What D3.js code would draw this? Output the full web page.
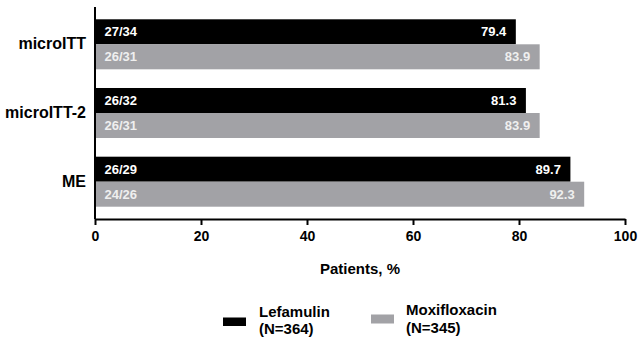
<!DOCTYPE html>
<html lang="en">
<head>
    <meta charset="UTF-8">
    <title>Lefamulin vs Moxifloxacin</title>
    <style>
        body {
            margin: 0;
            padding: 0;
            background-color: #ffffff;
        }

        svg text {
            font-family: 'Liberation Sans', Arial, sans-serif;
            font-weight: bold;
        }

        .axis path, .axis line {
            stroke: #000;
            stroke-width: 2px;
        }
    </style>
</head>
<body>
    <svg width="639" height="338"></svg>

    <script src="https://d3js.org/d3.v7.min.js"></script>
    <script>
        // data
        const categories = ["microITT", "microITT-2", "ME"];
        const seriesNames = ["Lefamulin", "Moxifloxacin"];
        const seriesN = ["(N=364)", "(N=345)"];
        const lefamulinPct = [79.4, 81.3, 89.7];
        const moxifloxacinPct = [83.9, 83.9, 92.3];
        const lefamulinFrac = ["27/34", "26/32", "26/29"];
        const moxifloxacinFrac = ["26/31", "26/31", "24/26"];
        const xTicks = [0, 20, 40, 60, 80, 100];

        const colors = ["#000000", "#a2a2a6"];
        const labelColors = ["#ffffff", "#efefef"];

        const svg = d3.select("svg");

        const margin = {top: 7, right: 14, bottom: 119, left: 95};
        const width = 639, height = 338;

        const x = d3.scaleLinear()
            .domain([0, 100])
            .range([margin.left, width - margin.right]);

        const y = d3.scaleBand()
            .domain(categories)
            .range([margin.top, height - margin.bottom])
            .paddingInner(0.272)
            .paddingOuter(0.179);

        const ySub = d3.scaleBand()
            .domain(seriesNames)
            .range([0, y.bandwidth()]);

        // one row per bar
        const rows = [];
        categories.forEach((c, i) => {
            rows.push({cat: c, s: 0, v: lefamulinPct[i], frac: lefamulinFrac[i]});
            rows.push({cat: c, s: 1, v: moxifloxacinPct[i], frac: moxifloxacinFrac[i]});
        });

        // bars
        svg.append("g")
            .selectAll("rect")
            .data(rows)
            .enter().append("rect")
            .attr("x", x(0))
            .attr("y", d => y(d.cat) + ySub(seriesNames[d.s]))
            .attr("width", d => x(d.v) - x(0))
            .attr("height", ySub.bandwidth())
            .attr("fill", d => colors[d.s]);

        // fraction labels (left)
        svg.append("g")
            .selectAll("text")
            .data(rows)
            .enter().append("text")
            .attr("x", x(0) + 9.5)
            .attr("y", d => y(d.cat) + ySub(seriesNames[d.s]) + ySub.bandwidth() / 2)
            .attr("dy", "0.36em")
            .attr("font-size", "13px")
            .attr("fill", d => labelColors[d.s])
            .text(d => d.frac);

        // value labels (right end)
        svg.append("g")
            .selectAll("text")
            .data(rows)
            .enter().append("text")
            .attr("x", d => x(d.v) - 9.5)
            .attr("y", d => y(d.cat) + ySub(seriesNames[d.s]) + ySub.bandwidth() / 2)
            .attr("dy", "0.36em")
            .attr("text-anchor", "end")
            .attr("font-size", "13px")
            .attr("fill", d => labelColors[d.s])
            .text(d => d.v.toFixed(1));

        // x axis
        const xAxis = svg.append("g")
            .attr("class", "axis")
            .attr("transform", `translate(0,${height - margin.bottom})`)
            .call(d3.axisBottom(x).tickValues(xTicks).tickSize(6).tickSizeOuter(0).tickPadding(6));
        xAxis.selectAll("text")
            .attr("font-size", "14px")
            .attr("fill", "#000");

        // y axis
        const yAxis = svg.append("g")
            .attr("class", "axis")
            .attr("transform", `translate(${margin.left},0)`)
            .call(d3.axisLeft(y).tickSize(0).tickSizeOuter(0).tickPadding(9));
        yAxis.selectAll("text")
            .attr("font-size", "16px")
            .attr("fill", "#000");
        yAxis.select(".domain").attr("d", `M0,${margin.top}V${height - margin.bottom}`);

        // x axis title
        svg.append("text")
            .attr("x", (x(0) + x(100)) / 2)
            .attr("y", 274)
            .attr("text-anchor", "middle")
            .attr("font-size", "15px")
            .text("Patients, %");

        // legend
        const legendPos = [
            {sx: 223, sy: 317.5, sh: 8.5, tx: 259, ty: 316.5},
            {sx: 371, sy: 314.5, sh: 9, tx: 406, ty: 315}
        ];
        const legend = svg.append("g")
            .selectAll("g")
            .data(seriesNames)
            .enter().append("g");

        legend.append("rect")
            .attr("x", (d, i) => legendPos[i].sx)
            .attr("y", (d, i) => legendPos[i].sy)
            .attr("width", 23)
            .attr("height", (d, i) => legendPos[i].sh)
            .attr("fill", (d, i) => colors[i]);

        legend.append("text")
            .attr("x", (d, i) => legendPos[i].tx)
            .attr("y", (d, i) => legendPos[i].ty)
            .attr("font-size", "15px")
            .text(d => d);

        legend.append("text")
            .attr("x", (d, i) => legendPos[i].tx)
            .attr("y", (d, i) => legendPos[i].ty + 17.5)
            .attr("font-size", "15px")
            .text((d, i) => seriesN[i]);
    </script>
</body>
</html>
